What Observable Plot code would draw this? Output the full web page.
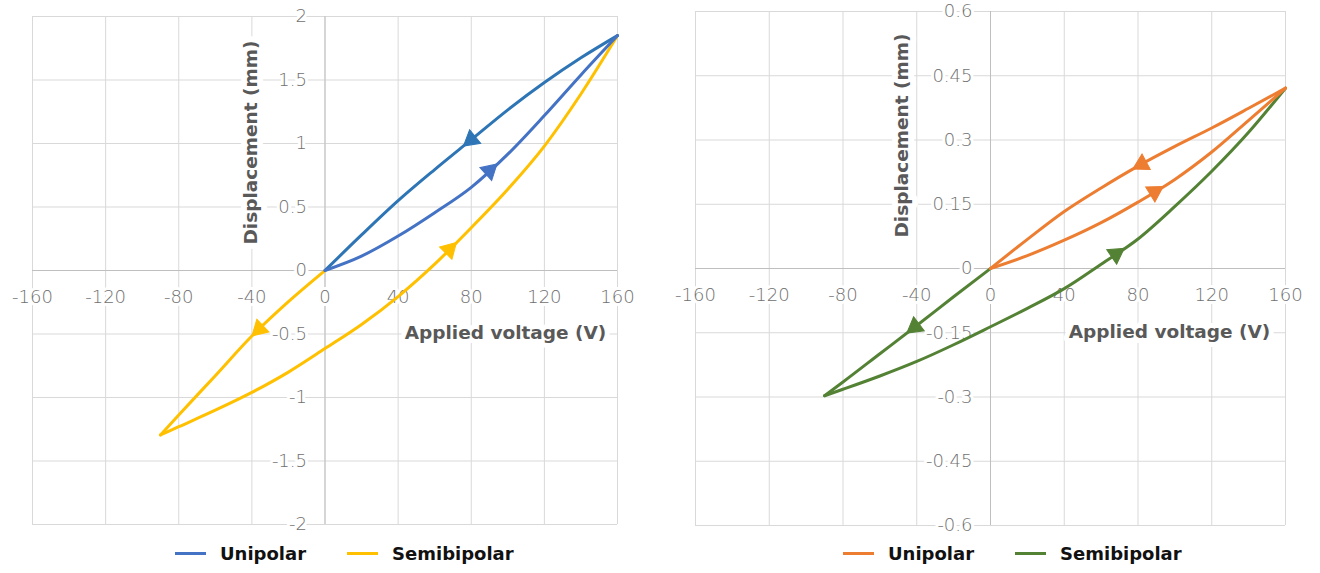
<!DOCTYPE html>
<html>
<head>
<meta charset="utf-8">
<script src="https://cdn.jsdelivr.net/npm/d3@7"></script>
<script src="https://cdn.jsdelivr.net/npm/@observablehq/plot@0.6"></script>
<style>
  html, body { margin: 0; padding: 0; background: #fff; }
  #page { position: relative; width: 1320px; height: 573px; overflow: hidden; font-family: "DejaVu Sans", sans-serif; }
  .panel { position: absolute; top: 0; }
  .legend { position: absolute; top: 543px; display: flex; align-items: center; font-weight: bold; font-size: 18px; color: #111; white-space: nowrap; }
  .legend .sw { display: inline-block; width: 31px; height: 3px; margin-right: 14px; }
  .legend .item { display: flex; align-items: center; }
</style>
</head>
<body>
<div id="page"></div>
<script>
// ---------- ticks ----------
const xTicks = [-160, -120, -80, -40, 0, 40, 80, 120, 160];
const yTicksL = [-2, -1.5, -1, -0.5, 0, 0.5, 1, 1.5, 2];
const yTicksR = [-0.6, -0.45, -0.3, -0.15, 0, 0.15, 0.3, 0.45, 0.6];

// ---------- left chart (mm) ----------
const uniUpV  = [160, 140, 120, 100, 80, 60, 40, 20, 0];
const uniUpD  = [1.85, 1.675, 1.48, 1.265, 1.03, 0.795, 0.55, 0.28, 0];
const uniLowV = [0, 20, 40, 60, 80, 100, 120, 140, 160];
const uniLowD = [0, 0.113, 0.271, 0.455, 0.655, 0.916, 1.22, 1.54, 1.85];
const semiDownV = [0, -20, -40, -60, -80, -90];
const semiDownD = [0, -0.245, -0.516, -0.828, -1.138, -1.295];
const semiUpV = [-90, -80, -60, -40, -20, 0, 20, 40, 60, 80, 100, 120, 140, 160];
const semiUpD = [-1.295, -1.23, -1.10, -0.96, -0.80, -0.615, -0.425, -0.205, 0.05, 0.337, 0.64, 0.98, 1.39, 1.85];

// ---------- right chart (mm) ----------
const orUpV  = [160, 140, 120, 100, 80, 60, 40, 20, 0];
const orUpD  = [0.421, 0.374, 0.328, 0.285, 0.239, 0.188, 0.133, 0.068, 0];
const orLowV = [0, 20, 40, 60, 80, 100, 120, 140, 160];
const orLowD = [0, 0.030, 0.066, 0.107, 0.155, 0.208, 0.272, 0.346, 0.421];
const grDownV = [0, -20, -40, -60, -80, -90];
const grDownD = [0, -0.066, -0.133, -0.199, -0.265, -0.297];
const grUpV = [-90, -80, -60, -40, -20, 0, 20, 40, 60, 80, 100, 120, 140, 160];
const grUpD = [-0.297, -0.282, -0.251, -0.217, -0.178, -0.136, -0.093, -0.047, 0.010, 0.069, 0.145, 0.227, 0.318, 0.421];

// arrow positions (voltage along each branch)
const arrowsLeftBranch = ["uniUp", "uniLow", "semiUp", "semiDown"];
const arrowsLeftV = [80, 90, 68, -36];
const arrowsRightBranch = ["orUp", "orLow", "grUp", "grDown"];
const arrowsRightV = [82, 89, 68, -41];

const legendLeft = ["Unipolar", "Semibipolar"];
const legendRight = ["Unipolar", "Semibipolar"];

const xTitle = "Applied voltage (V)";
const yTitle = "Displacement (mm)";

// ---------- styles ----------
const BLUE_UP = "#2E75B6", BLUE = "#4472C4", YELLOW = "#FFC000", ORANGE = "#ED7D31", GREEN = "#548235";
const FONT = "DejaVu Sans, sans-serif";

const panels = [
  {
    left: 0, width: 660, height: 535,
    margin: {top: 16, right: 43, bottom: 11, left: 32},
    yDomain: [-2, 2], yTicks: yTicksL,
    xTickDy: 27,
    yTitlePos: [219, 126], xTitlePos: [473, 317],
    branches: [
      {name: "semiUp", v: semiUpV, d: semiUpD, color: YELLOW},
      {name: "semiDown", v: semiDownV, d: semiDownD, color: YELLOW},
      {name: "uniUp", v: uniUpV, d: uniUpD, color: BLUE_UP},
      {name: "uniLow", v: uniLowV, d: uniLowD, color: BLUE}
    ],
    arrows: arrowsLeftBranch.map((b, i) => ({branch: b, v: arrowsLeftV[i]})),
    legend: {names: legendLeft, colors: [BLUE, YELLOW], left: 175}
  },
  {
    left: 660, width: 660, height: 535,
    margin: {top: 11, right: 35, bottom: 10, left: 35},
    yDomain: [-0.6, 0.6], yTicks: yTicksR,
    xTickDy: 27,
    yTitlePos: [207, 124], xTitlePos: [474, 321],
    branches: [
      {name: "grUp", v: grUpV, d: grUpD, color: GREEN},
      {name: "grDown", v: grDownV, d: grDownD, color: GREEN},
      {name: "orUp", v: orUpV, d: orUpD, color: ORANGE},
      {name: "orLow", v: orLowV, d: orLowD, color: ORANGE}
    ],
    arrows: arrowsRightBranch.map((b, i) => ({branch: b, v: arrowsRightV[i]})),
    legend: {names: legendRight, colors: [ORANGE, GREEN], left: 843}
  }
];

function build(p, arrowRows) {
  const rows = p.branches.flatMap(b =>
    b.v.map((v, i) => ({branch: b.name, v, d: b.d[i], color: b.color})).sort((a, c) => a.v - c.v));
  const marks = [
    Plot.ruleX(xTicks, {x: d => d, stroke: "#d9d9d9", strokeOpacity: 1, strokeWidth: 1}),
    Plot.ruleY(p.yTicks, {y: d => d, stroke: "#d9d9d9", strokeOpacity: 1, strokeWidth: 1}),
    Plot.ruleX([0], {x: d => d, stroke: "#bfbfbf", strokeWidth: 1}),
    Plot.ruleY([0], {y: d => d, stroke: "#bfbfbf", strokeWidth: 1}),
    Plot.text(p.yTicks, {x: () => 0, y: d => d, text: d => String(d), textAnchor: "end", dx: -18,
      fontSize: 18, fontWeight: 200, fontFamily: FONT, fill: "#707070", stroke: "white", strokeWidth: 6}),
    Plot.text(xTicks, {x: d => d, y: () => 0, text: d => String(d), dy: p.xTickDy,
      fontSize: 18, fontWeight: 200, fontFamily: FONT, fill: "#707070", stroke: "white", strokeWidth: 6}),
    Plot.text([yTitle], {frameAnchor: "top-left", dx: p.yTitlePos[0], dy: p.yTitlePos[1], rotate: -90,
      text: d => d, fontSize: 18.5, fontWeight: "bold", fontFamily: FONT, fill: "#595959",
      stroke: "white", strokeWidth: 12, textAnchor: "middle", lineAnchor: "middle"}),
    Plot.text([xTitle], {frameAnchor: "top-left", dx: p.xTitlePos[0], dy: p.xTitlePos[1],
      text: d => d, fontSize: 18.5, fontWeight: "bold", fontFamily: FONT, fill: "#595959",
      stroke: "white", strokeWidth: 10, textAnchor: "middle", lineAnchor: "middle"}),
    Plot.line(rows, {x: "v", y: "d", z: "branch", stroke: "color", strokeWidth: 3, curve: "monotone-x", strokeLinejoin: "round"})
  ];
  if (arrowRows.length) {
    marks.push(Plot.dot(arrowRows, {x: "x", y: "y", symbol: "triangle", r: 6.5, fill: "color", stroke: "color", strokeWidth: 1, rotate: "rot"}));
  }
  return Plot.plot({
    width: p.width, height: p.height,
    marginTop: p.margin.top, marginRight: p.margin.right, marginBottom: p.margin.bottom, marginLeft: p.margin.left,
    x: {domain: [-160, 160], axis: null},
    y: {domain: p.yDomain, axis: null},
    color: {type: "identity"},
    style: {fontFamily: FONT, background: "white", overflow: "visible"},
    marks
  });
}

function computeArrows(plot, p) {
  const sx = plot.scale("x"), sy = plot.scale("y");
  return p.arrows.map(a => {
    const b = p.branches.find(b => b.name === a.branch);
    for (let i = 0; i < b.v.length - 1; i++) {
      if ((a.v - b.v[i]) * (a.v - b.v[i + 1]) <= 0) {
        const t = (a.v - b.v[i]) / (b.v[i + 1] - b.v[i]);
        const y = b.d[i] + t * (b.d[i + 1] - b.d[i]);
        const dx = sx.apply(b.v[i + 1]) - sx.apply(b.v[i]);
        const dy = sy.apply(b.d[i + 1]) - sy.apply(b.d[i]);
        const rot = Math.atan2(dx, -dy) * 180 / Math.PI;
        return {x: a.v, y, rot, color: b.color};
      }
    }
    return null;
  }).filter(Boolean);
}

const page = document.getElementById("page");
for (const p of panels) {
  const first = build(p, []);
  const arrows = computeArrows(first, p);
  const plot = build(p, arrows);
  const wrap = document.createElement("div");
  wrap.className = "panel";
  wrap.style.left = p.left + "px";
  wrap.appendChild(plot);
  page.appendChild(wrap);

  const lg = document.createElement("div");
  lg.className = "legend";
  lg.style.left = p.legend.left + "px";
  p.legend.names.forEach((name, i) => {
    const item = document.createElement("div");
    item.className = "item";
    if (i > 0) item.style.marginLeft = "41px";
    const sw = document.createElement("span");
    sw.className = "sw";
    sw.style.background = p.legend.colors[i];
    const tx = document.createElement("span");
    tx.textContent = name;
    item.appendChild(sw);
    item.appendChild(tx);
    lg.appendChild(item);
  });
  page.appendChild(lg);
}
</script>
</body>
</html>
